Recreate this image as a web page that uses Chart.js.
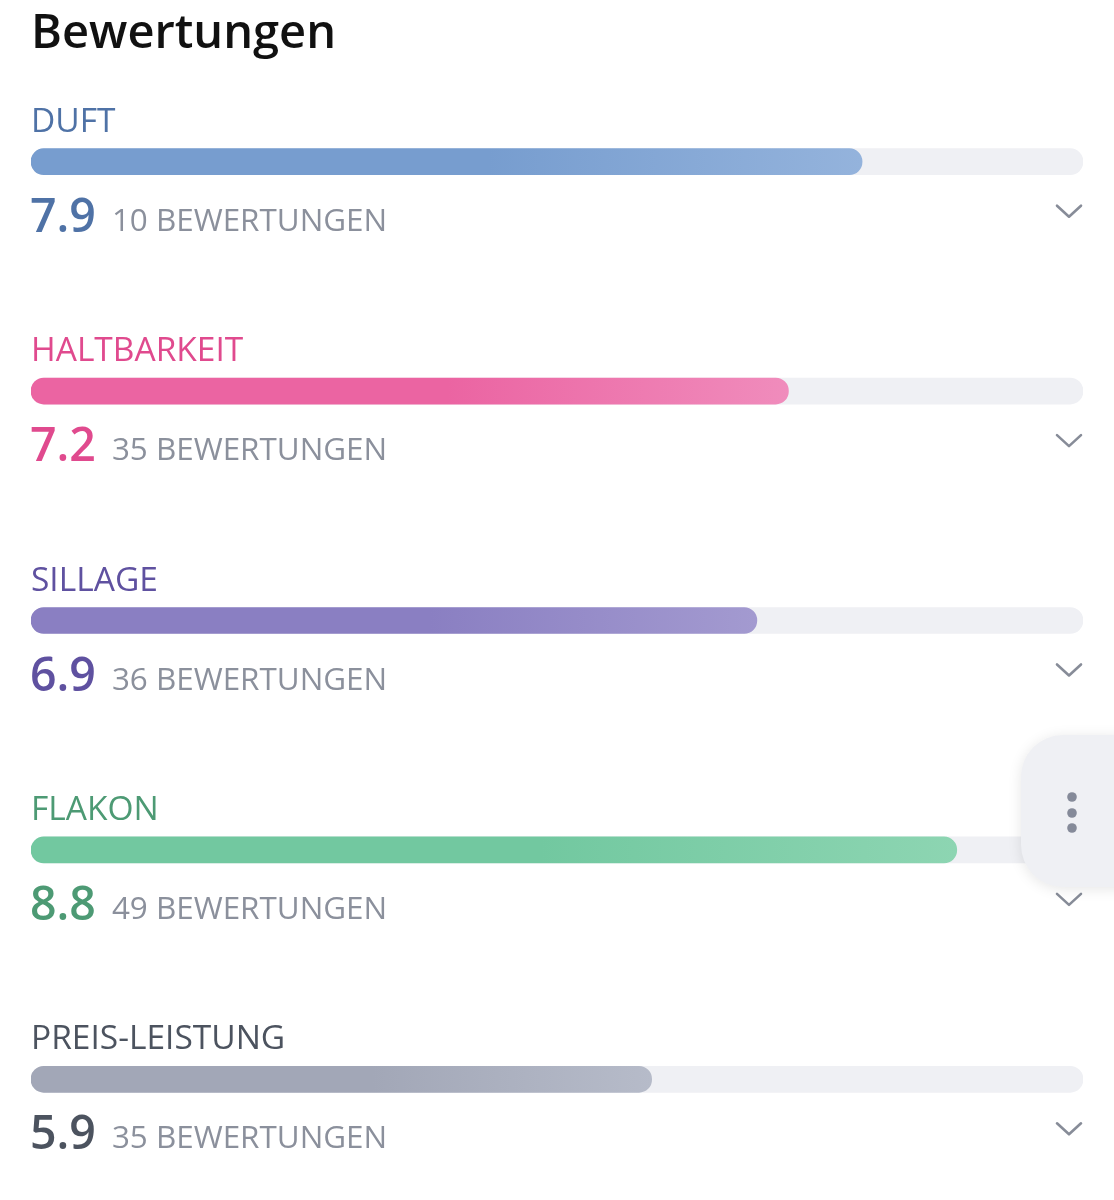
<!DOCTYPE html>
<html>
<head>
<meta charset="utf-8">
<script src="https://cdn.jsdelivr.net/npm/chart.js@4/dist/chart.umd.min.js"></script>
<style>
html,body{margin:0;padding:0;background:#fff;}
#wrap{position:relative;width:1114px;height:1200px;}
canvas{display:block;}
</style>
</head>
<body>
<div id="wrap"><canvas id="c" width="1114" height="1200"></canvas></div>
<script>
const title = "Bewertungen";
const categories = ["DUFT", "HALTBARKEIT", "SILLAGE", "FLAKON", "PREIS-LEISTUNG"];
const scores = [7.9, 7.2, 6.9, 8.8, 5.9];
const counts = [10, 35, 36, 49, 35];
const countSuffix = "BEWERTUNGEN";
const maxScore = 10;
const trackValues = categories.map(() => maxScore);

const labelColors = ["#4f72a6", "#e04a8e", "#5f51a0", "#4d9a74", "#4c535f"];
const barStart = ["#779dcf", "#eb64a2", "#8a7fc2", "#72c8a0", "#a2a7b7"];
const barEnd   = ["#94b3dc", "#f08cbc", "#a39ad0", "#8dd5b2", "#b6bbc9"];
const trackColor = "#eff0f4";
const countColor = "#8b909c";
const chevronColor = "#878c98";

const FONT = "'Open Sans', 'Noto Sans', sans-serif";

function gradFor(ctx) {
  const chart = ctx.chart;
  const area = chart.chartArea;
  if (!area) return barStart[ctx.dataIndex];
  const xs = chart.scales.x;
  const end = xs.getPixelForValue(scores[ctx.dataIndex]);
  const g = chart.ctx.createLinearGradient(area.left, 0, end, 0);
  g.addColorStop(0, barStart[ctx.dataIndex]);
  g.addColorStop(0.55, barStart[ctx.dataIndex]);
  g.addColorStop(1, barEnd[ctx.dataIndex]);
  return g;
}

const textPlugin = {
  id: 'texts',
  afterDatasetsDraw(chart) {
    const c = chart.ctx;
    const area = chart.chartArea;
    const meta = chart.getDatasetMeta(1);
    c.save();
    c.fillStyle = "#111111";
    c.font = "600 47px " + FONT;
    c.textBaseline = "alphabetic";
    c.textAlign = "left";
    c.fillText(title, 31, 48);
    meta.data.forEach((bar, i) => {
      const y = bar.y;
      const x0 = area.left;
      c.textAlign = "left";
      c.fillStyle = labelColors[i];
      c.font = "400 33.5px " + FONT;
      c.fillText(categories[i], x0, y - 30);
      c.font = "600 46.5px " + FONT;
      const v = scores[i].toFixed(1);
      c.fillText(v, x0 - 1, y + 70);
      const vw = c.measureText(v).width;
      c.fillStyle = countColor;
      c.font = "400 31.4px " + FONT;
      c.fillText(counts[i] + " " + countSuffix, x0 + vw + 15, y + 69);
      const cx = area.right - 14;
      const cy = y + 50;
      c.strokeStyle = chevronColor;
      c.lineWidth = 2.6;
      c.lineCap = "round";
      c.lineJoin = "round";
      c.beginPath();
      c.moveTo(cx - 12, cy - 6);
      c.lineTo(cx, cy + 5);
      c.lineTo(cx + 12, cy - 6);
      c.stroke();
    });
    const bx = 1021, by = 735, bw = 140, bh = 152, r = 42;
    c.save();
    c.shadowColor = "rgba(0,0,0,0.10)";
    c.shadowBlur = 14;
    c.shadowOffsetX = 0;
    c.shadowOffsetY = 2;
    c.fillStyle = "#eff0f4";
    c.beginPath();
    c.roundRect(bx, by, bw, bh, r);
    c.fill();
    c.restore();
    c.fillStyle = "#858a99";
    [797, 813, 828].forEach(dy => {
      c.beginPath();
      c.arc(1072, dy, 4.8, 0, Math.PI * 2);
      c.fill();
    });
    c.restore();
  }
};

new Chart(document.getElementById('c'), {
  type: 'bar',
  data: {
    labels: categories,
    datasets: [
      {
        data: trackValues,
        backgroundColor: trackColor,
        borderRadius: 13,
        borderSkipped: false,
        barThickness: 26,
        order: 2
      },
      {
        data: scores,
        backgroundColor: gradFor,
        borderRadius: 13,
        borderSkipped: false,
        barThickness: 26,
        order: 1
      }
    ]
  },
  options: {
    indexAxis: 'y',
    responsive: false,
    animation: false,
    devicePixelRatio: 1,
    datasets: { bar: { grouped: false } },
    layout: { padding: { left: 31, right: 31, top: 47, bottom: 6 } },
    scales: {
      x: { min: 0, max: maxScore, display: false },
      y: { display: false, offset: true }
    },
    plugins: { legend: { display: false }, tooltip: { enabled: false } }
  },
  plugins: [textPlugin]
});
</script>
</body>
</html>
